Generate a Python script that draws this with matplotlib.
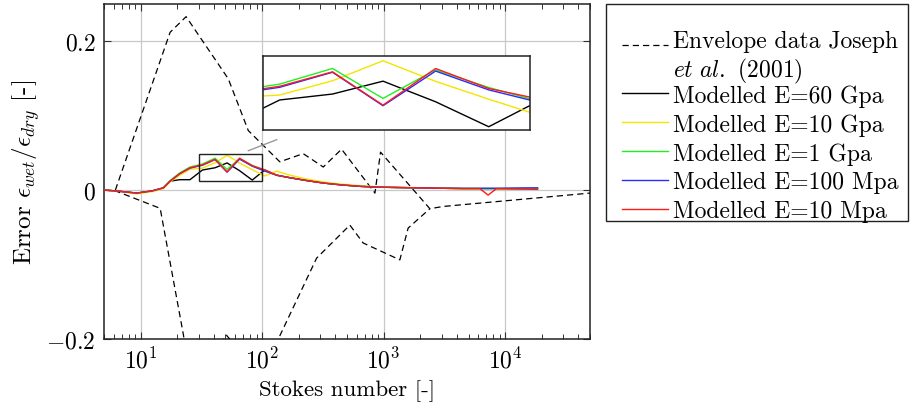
import matplotlib
matplotlib.use("Agg")
import matplotlib.pyplot as plt
from matplotlib.lines import Line2D
from matplotlib.patches import Rectangle
from matplotlib.legend_handler import HandlerLine2D
from matplotlib.ticker import FixedLocator, LogLocator, NullFormatter, NullLocator

plt.rcParams['font.family'] = 'serif'
plt.rcParams['font.serif'] = ['cmr10']
plt.rcParams['mathtext.fontset'] = 'cm'
plt.rcParams['axes.formatter.use_mathtext'] = True
plt.rcParams['axes.unicode_minus'] = False

# Envelope data (Joseph et al. 2001)
env_upper_x = [6.2, 17.5, 23.7, 52.7, 77, 140, 218, 319, 451, 849, 944, 2404, 3080, 50000]
env_upper_y = [0.0, 0.212, 0.233, 0.1495, 0.080, 0.038, 0.049, 0.031, 0.055, -0.004, 0.051, -0.025, -0.022, -0.004]
env_lower_x = [5, 6.2, 14.5, 22.5, 26, 51, 110, 136, 281, 528, 679, 1361, 1593, 2404]
env_lower_y = [0.0, -0.001, -0.0245, -0.194, -0.26, -0.195, -0.26, -0.2, -0.0914, -0.047, -0.071, -0.0937, -0.051, -0.025]

# Modelled curves
model_x = [5, 6.2, 9.3, 12.5, 15.4, 17.5, 21, 25.5, 32.3, 41, 51.5, 65.3, 83, 105, 132, 170,
           230, 320, 450, 650, 900, 1300, 2000, 3000, 4500, 6200, 7250, 8500, 12000, 18500]
e60g = [0.0, -0.001, -0.004, -0.001, 0.003, 0.012, 0.014, 0.014, 0.027, 0.030, 0.0365, 0.0261, 0.0135, 0.027, 0.020, 0.0166,
        0.013, 0.0095, 0.007, 0.005, 0.004, 0.0035, 0.003, 0.0025, 0.002, 0.002, 0.002, 0.002, 0.002, 0.0023]
e10g = [0.0, -0.001, -0.005, -0.002, 0.002, 0.011, 0.020, 0.028, 0.0295, 0.0367, 0.0468, 0.0364, 0.0274, 0.019, 0.0254, 0.020,
        0.015, 0.011, 0.008, 0.006, 0.0045, 0.0035, 0.003, 0.0025, 0.002, 0.002, 0.002, 0.002, 0.002, 0.0023]
e1g = [0.0, -0.001, -0.004, -0.001, 0.003, 0.013, 0.023, 0.031, 0.035, 0.0429, 0.0278, 0.0422, 0.0333, 0.0261, 0.020, 0.0166,
       0.013, 0.0095, 0.007, 0.005, 0.004, 0.0035, 0.003, 0.0025, 0.002, 0.002, 0.002, 0.002, 0.002, 0.0025]
e100m = [0.0, -0.001, -0.004, -0.001, 0.003, 0.012, 0.022, 0.0295, 0.0334, 0.041, 0.0241, 0.0416, 0.0321, 0.0256, 0.020, 0.0166,
         0.013, 0.0095, 0.007, 0.005, 0.004, 0.0035, 0.003, 0.0025, 0.0025, 0.0025, 0.0025, 0.0025, 0.0028, 0.003]
e10m = [0.0, -0.001, -0.004, -0.001, 0.003, 0.012, 0.022, 0.030, 0.0339, 0.0412, 0.0244, 0.0429, 0.0328, 0.0273, 0.020, 0.0166,
        0.013, 0.0095, 0.007, 0.005, 0.004, 0.0035, 0.003, 0.0025, 0.002, 0.002, -0.0067, 0.002, 0.0015, 0.001]

series = [
    (e60g, 'black', 'Modelled E=60 Gpa'),
    (e10g, '#f5e400', 'Modelled E=10 Gpa'),
    (e1g, '#22ee22', 'Modelled E=1 Gpa'),
    (e100m, '#2a2aff', 'Modelled E=100 Mpa'),
    (e10m, '#ff1a1a', 'Modelled E=10 Mpa'),
]
envelope_label = 'Envelope data Joseph\n' + r'$\mathit{et\ al.}$ (2001)'

xlim = (5, 5e4)
ylim = (-0.2, 0.25)
yticks = [-0.2, 0, 0.2]
ytick_labels = ['$-0.2$', '$0$', '$0.2$']
ins_xlim = (30, 100)
ins_ylim = (0.012, 0.049)

FS = 17

fig = plt.figure(figsize=(9.1, 4.1), dpi=100)
ax = fig.add_axes([104/910, 1-340/410, 486/910, 335/410])

dash = (5, 3.2)
ax.plot(env_upper_x, env_upper_y, color='black', lw=0.9, dashes=dash, zorder=3)
ax.plot(env_lower_x, env_lower_y, color='black', lw=0.9, dashes=dash, zorder=3)
for ys, c, lab in series:
    ax.plot(model_x, ys, color=c, lw=1.0, zorder=4)

ax.set_xscale('log')
ax.set_xlim(*xlim)
ax.set_ylim(*ylim)
ax.yaxis.set_major_locator(FixedLocator(yticks))
ax.set_yticklabels(ytick_labels)
ax.yaxis.set_minor_locator(NullLocator())
ax.xaxis.set_major_locator(LogLocator(base=10, numticks=10))
ax.xaxis.set_minor_locator(LogLocator(base=10, subs=range(2, 10), numticks=20))
ax.xaxis.set_minor_formatter(NullFormatter())
ax.grid(True, which='major', color='#c8c8c8', lw=0.9, zorder=0)
ax.set_axisbelow(True)
ax.tick_params(which='both', direction='in', top=True, right=True, labelsize=FS, color='#333333')
ax.tick_params(which='major', length=5, width=0.8, pad=6)
ax.tick_params(which='minor', length=3.5, width=0.7)
for s in ax.spines.values():
    s.set_linewidth(1.1)
    s.set_color('#222222')
ax.set_xlabel('Stokes number [-]', fontsize=16.5, labelpad=5)
ax.set_ylabel(r'Error $\epsilon_{wet}/\epsilon_{dry}$ [-]', fontsize=18, labelpad=3)

# zoom rectangle on main axes
ax.add_patch(Rectangle((ins_xlim[0], ins_ylim[0]), ins_xlim[1]-ins_xlim[0], ins_ylim[1]-ins_ylim[0],
                       fill=False, edgecolor='#222222', lw=1.0, zorder=6))

# inset
axins = fig.add_axes([263.3/910, 1-130.7/410, 266.7/910, 73.3/410])
axins.plot(env_upper_x, env_upper_y, color='black', lw=0.9, dashes=dash)
axins.plot(env_lower_x, env_lower_y, color='black', lw=0.9, dashes=dash)
for ys, c, lab in series:
    axins.plot(model_x, ys, color=c, lw=1.0)
axins.set_xscale('log')
axins.set_xlim(*ins_xlim)
axins.set_ylim(*ins_ylim)
axins.set_xticks([])
axins.set_yticks([])
axins.xaxis.set_minor_locator(NullLocator())
for s in axins.spines.values():
    s.set_linewidth(1.1)
    s.set_color('#222222')

# gray connector
fig.add_artist(Line2D([248.3/910, 276.7/910], [1-151.7/410, 1-140.7/410], color='#999999', lw=1.0))


class ShiftedLineHandler(HandlerLine2D):
    def __init__(self, dy, **kw):
        super().__init__(**kw)
        self.dy = dy

    def create_artists(self, legend, orig_handle, xdescent, ydescent, width, height, fontsize, trans):
        arts = super().create_artists(legend, orig_handle, xdescent, ydescent, width, height, fontsize, trans)
        for a in arts:
            a.set_ydata([y + self.dy for y in a.get_ydata()])
        return arts


leg_kw = dict(loc='upper left', fontsize=FS, frameon=False, handlelength=1.95, handletextpad=0.22,
              borderpad=0.0, borderaxespad=0)

# legend part 1: envelope (two-line entry)
env_handle = Line2D([], [], color='black', lw=0.9, dashes=dash)
leg1 = fig.legend([env_handle], [envelope_label], bbox_to_anchor=(622/910, 1-31/410),
                  handler_map={env_handle: ShiftedLineHandler(dy=9.0)}, **leg_kw)
leg1.get_texts()[0].set_linespacing(1.16)

# legend part 2: modelled curves
handles = [Line2D([], [], color=c, lw=1.0) for ys, c, lab in series]
labels = [lab for ys, c, lab in series]
leg2 = fig.legend(handles, labels, bbox_to_anchor=(622/910, 1-85/410), labelspacing=0.28, **leg_kw)

fig.add_artist(Rectangle((606/910, 1-222/410), 302/910, 217/410, transform=fig.transFigure,
                         fill=False, edgecolor='#222222', lw=1.0))

fig.savefig('out.png', dpi=100)
